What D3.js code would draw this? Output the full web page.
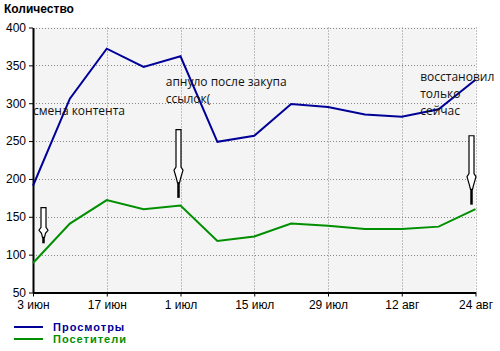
<!DOCTYPE html>
<html>
<head>
<meta charset="utf-8">
<script src="https://cdn.jsdelivr.net/npm/d3@7"></script>
<style>
  body { margin: 0; background: #fff; }
  svg text { font-family: "Liberation Sans", Arial, sans-serif; }
  .note { font-family: "Open Sans", sans-serif; font-size: 12px; fill: #111; }
</style>
</head>
<body>
<svg id="chart" width="500" height="351"></svg>
<script>
// weekly points
const dates = ['3 июн', '10 июн', '17 июн', '24 июн', '1 июл', '8 июл', '15 июл',
  '22 июл', '29 июл', '5 авг', '12 авг', '19 авг', '24 авг'];
const views = [191, 306, 372, 348, 362, 249, 257, 299, 295, 285, 282, 292, 331];
const visitors = [89, 141, 172, 160, 165, 118, 124, 141, 138, 134, 134, 137, 160];
const yTicks = [50, 100, 150, 200, 250, 300, 350, 400];
const tickIdx = [0, 2, 4, 6, 8, 10, 12];

// notes + arrows (index / value)
const notes = [
  { i: 0, v: 284, lines: ['смена контента'] },
  { i: 3.6, v: 323, lines: ['апнуло после закупа', 'ссылок('] },
  { i: 10.5, v: 329, lines: ['восстановил', 'только', 'сейчас'] }
];
const arrows = [
  { i: 0.27, top: 162, bottom: 115 },
  { i: 3.93, top: 265, bottom: 175 },
  { i: 11.88, top: 257, bottom: 166 }
];

const series = [
  { name: 'Просмотры', values: views, color: '#000099' },
  { name: 'Посетители', values: visitors, color: '#008f00' }
];

const svg = d3.select('#chart');
const mLeft = 33, mRight = 475.5, mTop = 27.5, mBottom = 292.5;

const x = d3.scaleLinear().domain([0, dates.length - 1]).range([mLeft, mRight]);
const y = d3.scaleLinear().domain([50, 400]).range([mBottom, mTop]);

// plot background
svg.append('rect')
  .attr('x', mLeft).attr('y', mTop)
  .attr('width', mRight - mLeft).attr('height', mBottom - mTop)
  .attr('fill', '#f4f4f4');

// grid
svg.append('g').selectAll('line')
  .data(yTicks.slice(1))
  .join('line')
  .attr('x1', mLeft).attr('x2', mRight)
  .attr('y1', d => Math.round(y(d)) + 0.5).attr('y2', d => Math.round(y(d)) + 0.5)
  .attr('stroke', '#888').attr('stroke-dasharray', '1,2');

svg.append('g').selectAll('line')
  .data(tickIdx.slice(1))
  .join('line')
  .attr('x1', d => Math.round(x(d)) + 0.5).attr('x2', d => Math.round(x(d)) + 0.5)
  .attr('y1', mTop).attr('y2', mBottom)
  .attr('stroke', '#888').attr('stroke-dasharray', '1,2');

// axes
const yAxis = d3.axisLeft(y).tickValues(yTicks).tickSize(4).tickSizeOuter(0).tickPadding(3);
const gy = svg.append('g').attr('transform', `translate(${mLeft},0)`).call(yAxis);
gy.select('.domain').attr('stroke-width', 2);
gy.selectAll('text').attr('font-size', 12).attr('fill', '#000')
  .attr('font-family', '"Liberation Sans", Arial, sans-serif');

const xAxis = d3.axisBottom(x).tickValues(tickIdx).tickFormat(i => dates[i]).tickSize(4).tickSizeOuter(0).tickPadding(4);
const gx = svg.append('g').attr('transform', `translate(0,${mBottom})`).call(xAxis);
gx.select('.domain').attr('stroke-width', 2);
gx.selectAll('text').attr('font-size', 12).attr('fill', '#000')
  .attr('font-family', '"Liberation Sans", Arial, sans-serif');

// lines
const line = d3.line().x((d, i) => x(i)).y(d => y(d));
svg.append('g').selectAll('path')
  .data(series)
  .join('path')
  .attr('d', d => line(d.values))
  .attr('fill', 'none')
  .attr('stroke', d => d.color)
  .attr('stroke-width', 2);

// title
svg.append('text')
  .attr('x', 4).attr('y', 13)
  .attr('font-size', 12).attr('font-weight', 'bold')
  .text('Количество');

// notes
notes.forEach(n => {
  const t = svg.append('text').attr('class', 'note')
    .attr('x', x(n.i)).attr('y', y(n.v));
  n.lines.forEach((s, k) => {
    t.append('tspan').attr('x', x(n.i)).attr('dy', k ? 17 : 0).text(s);
  });
});

// hand drawn arrows
arrows.forEach(a => {
  const cx = Math.round(x(a.i)) + 0.5;
  const y0 = y(a.top), y1 = y(a.bottom);
  const len = y1 - y0;
  const hs = y0 + len * 0.55, he = y0 + len * 0.72;
  const p = d3.path();
  p.moveTo(cx - 2.5, y0);
  p.lineTo(cx + 2.5, y0);
  p.lineTo(cx + 2.5, hs);
  p.lineTo(cx + 4.5, hs + 3);
  p.lineTo(cx + 2, he);
  p.lineTo(cx + 1, he + 4);
  p.lineTo(cx - 1, he + 4);
  p.lineTo(cx - 2, he);
  p.lineTo(cx - 4.5, hs + 3);
  p.lineTo(cx - 2.5, hs);
  p.closePath();
  svg.append('path').attr('d', p.toString())
    .attr('fill', '#fff').attr('stroke', '#000').attr('stroke-width', 1.2);
  svg.append('line')
    .attr('x1', cx).attr('x2', cx)
    .attr('y1', he + 4).attr('y2', y1)
    .attr('stroke', '#000').attr('stroke-width', 2.5);
});

// legend
const lg = svg.append('g').selectAll('g')
  .data(series)
  .join('g')
  .attr('transform', (d, i) => `translate(14,${327 + i * 12})`);
lg.append('line')
  .attr('x1', 0).attr('x2', 29)
  .attr('stroke', d => d.color).attr('stroke-width', 2);
lg.append('text')
  .attr('x', 39).attr('y', 4)
  .attr('font-size', 11).attr('font-weight', 'bold')
  .attr('letter-spacing', 1)
  .attr('fill', d => d.color)
  .text(d => d.name);
</script>
</body>
</html>
